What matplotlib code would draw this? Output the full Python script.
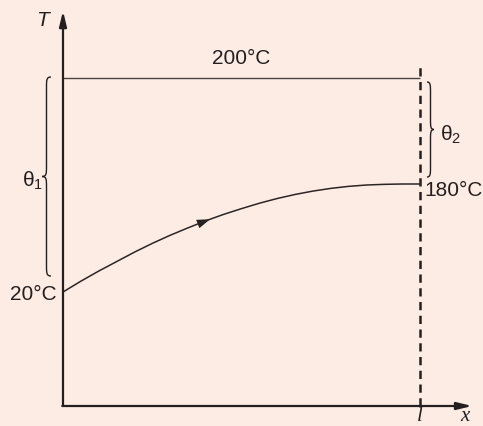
import numpy as np
import matplotlib
matplotlib.use("Agg")
import matplotlib.pyplot as plt
from matplotlib.path import Path
from matplotlib.patches import PathPatch, FancyArrowPatch

# ---------------- data ----------------
L = 1.0
T_wall = 200      # wall temperature (°C)
T_in = 20         # inlet temperature (°C)
T_out = 180       # outlet temperature (°C)
x_curve = [0.0, 0.05, 0.1, 0.15, 0.2, 0.25, 0.3, 0.35, 0.4, 0.45, 0.5,
           0.55, 0.6, 0.65, 0.7, 0.75, 0.8, 0.85, 0.9, 0.95, 1.0]
T_curve = [20, 36, 51, 65, 79, 92, 104, 115, 125.5, 135, 143.5,
           151.5, 158.5, 164.5, 169.5, 173.5, 176.5, 178.5, 179.5, 180, 180]
labels_T = ["200°C", "20°C", "180°C"]

# schematic (non-linear) vertical placement of temperature levels
T_levels = [20, 180, 200]
H_levels = [114, 222, 328]


def level(T):
    return np.interp(T, T_levels, H_levels)


BG = "#fdece3"
INK = "#231f20"

plt.rcParams["font.family"] = ["Liberation Sans", "DejaVu Sans"]
plt.rcParams["mathtext.default"] = "regular"

fig = plt.figure(figsize=(4.83, 4.27), dpi=100, facecolor=BG)
ax = fig.add_axes([0, 0, 1, 1])
ax.set_facecolor(BG)
ax.set_xlim(-63 / 357, 420 / 357)
ax.set_ylim(-20, 407)
ax.axis("off")

px = 1 / 357.0  # one pixel in x data units

# axes with arrows
ax.annotate("", xy=(0, 395), xytext=(0, 0),
            arrowprops=dict(arrowstyle="-|>,head_length=0.9,head_width=0.22",
                            lw=1.6, color=INK, shrinkA=0, shrinkB=0))
ax.annotate("", xy=(1.146, 0), xytext=(-0.002, 0),
            arrowprops=dict(arrowstyle="-|>,head_length=0.9,head_width=0.22",
                            lw=1.6, color=INK, shrinkA=0, shrinkB=0))

# wall temperature line
ax.plot([0, L], [level(T_wall)] * 2, color="#4a4240", lw=1.0, solid_capstyle="butt")

# dashed line at x = L
ax.plot([L, L], [0, level(T_wall) + 14], color=INK, lw=1.8,
        dashes=(3.3, 2.2), solid_capstyle="butt")

# fluid temperature curve
hc = level(np.array(T_curve))
ax.plot(x_curve, hc, color="#2b2626", lw=1.1, solid_joinstyle="round")

# arrow on curve
xa0, xa1 = 0.375, 0.412
ya0, ya1 = np.interp([xa0, xa1], x_curve, hc)
arr = FancyArrowPatch((xa0, ya0), (xa1, ya1),
                      arrowstyle="-|>,head_length=0.95,head_width=0.32",
                      mutation_scale=10, color=INK, lw=0, shrinkA=0, shrinkB=0)
ax.add_patch(arr)


# curly braces
def brace(xe, y1, y2, w, d, lw=1.0):
    xs = xe + d * w * 0.5
    xt = xe + d * w
    ym = (y1 + y2) / 2
    s = 1 if y2 > y1 else -1
    r = 10
    verts = [(xe, y1), (xs, y1), (xs, y1 + s * r * 0.3), (xs, y1 + s * r),
             (xs, ym - s * r),
             (xs, ym - s * r * 0.3), (xs, ym), (xt, ym),
             (xs, ym), (xs, ym + s * r * 0.3), (xs, ym + s * r),
             (xs, y2 - s * r),
             (xs, y2 - s * r * 0.3), (xs, y2), (xe, y2)]
    C = Path.CURVE4
    codes = [Path.MOVETO, C, C, C, Path.LINETO, C, C, C, C, C, C,
             Path.LINETO, C, C, C]
    ax.add_patch(PathPatch(Path(verts, codes), fill=False, color=INK, lw=lw))


brace(-12 * px, level(T_wall) + 1, level(T_in) + 16, 9 * px, -1)
brace(L + 7 * px, level(T_wall) - 4, level(T_out) + 7, 7 * px, +1)

fs = 15
ax.text(0.5 * L, level(T_wall) + 20, labels_T[0], ha="center", va="center",
        fontsize=fs, color=INK)
ax.text(-6 * px, level(T_in) - 2, labels_T[1], ha="right", va="center",
        fontsize=fs, color=INK)
ax.text(L + 4 * px, level(T_out) - 6, labels_T[2], ha="left", va="center",
        fontsize=fs, color=INK)
ax.text(-20 * px, 387, "T", ha="center", va="center", fontsize=fs,
        style="italic", color=INK)
ax.text(-41 * px, 226, "θ$_1$", ha="left", va="center", fontsize=fs, color=INK)
ax.text(L + 20 * px, 272, "θ$_2$", ha="left", va="center", fontsize=fs, color=INK)
ax.text(L, -14, "l", ha="center", va="baseline", fontsize=fs,
        family="Liberation Serif", style="italic", color=INK)
ax.text(L + 45 * px, -14, "x", ha="center", va="baseline", fontsize=fs,
        family="Liberation Serif", style="italic", color=INK)

fig.savefig("out.png", dpi=100, facecolor=BG)
